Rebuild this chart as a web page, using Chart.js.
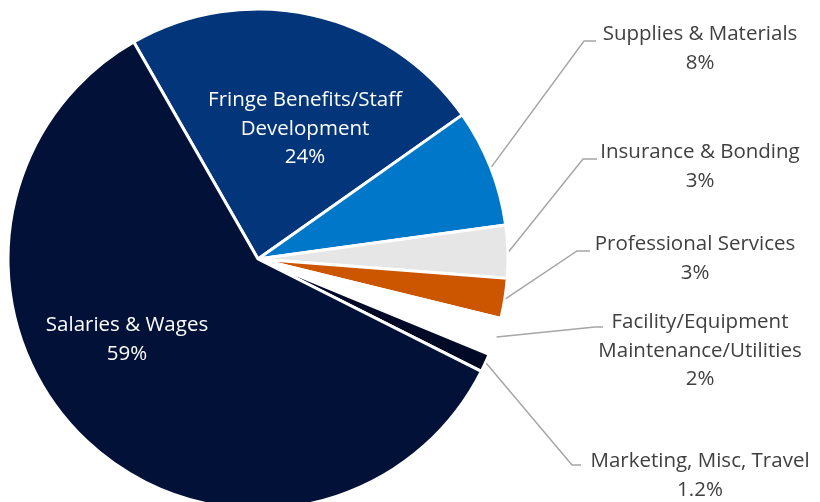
<!DOCTYPE html>
<html>
<head>
<meta charset="utf-8">
<script src="https://cdn.jsdelivr.net/npm/chart.js@4"></script>
<style>
  html, body { margin: 0; padding: 0; background: #fff; overflow: hidden; }
  #wrap { position: relative; width: 820px; height: 502px; }
</style>
</head>
<body>
<div id="wrap"><canvas id="budgetChart"></canvas></div>
<script>
// categories, in the clockwise order they appear
const categories = [
    "Fringe Benefits/Staff Development",
    "Supplies & Materials",
    "Insurance & Bonding",
    "Professional Services",
    "Facility/Equipment Maintenance/Utilities",
    "Marketing, Misc, Travel",
    "Salaries & Wages"
];

// share of budget, percent
const shares = [23.5, 7.6, 3.4, 2.6, 2.4, 1.2, 59.3];

// the percentages as printed on the chart
const shareText = ["24%", "8%", "3%", "3%", "2%", "1.2%", "59%"];

// how the label text is broken onto lines
const labelLines = [
    ["Fringe Benefits/Staff", "Development"],
    ["Supplies & Materials"],
    ["Insurance & Bonding"],
    ["Professional Services"],
    ["Facility/Equipment", "Maintenance/Utilities"],
    ["Marketing, Misc, Travel"],
    ["Salaries & Wages"]
];

const colors = [
    "#03357A", // bleu foncé
    "#0077C8", // bleu
    "#E6E6E6", // gris clair
    "#CC5500", // orange
    "#FFFFFF", // blanc
    "#000A26", // presque noir
    "#021138"  // marine
];

// where each label goes (inside ones have no leader line)
const labelPlace = [
    { inside: true, x: 305, y: 100, color: "#FFFFFF" },
    { x: 700, y: 34, elbow: [584, 41], end: [596, 41] },
    { x: 700, y: 152, elbow: [583, 159], end: [597, 159] },
    { x: 695, y: 244, elbow: [577, 251], end: [590, 251] },
    { x: 700, y: 322, elbow: [595, 327], end: [603, 327] },
    { x: 700, y: 461, elbow: [572, 465], end: [581, 465] },
    { inside: true, x: 127, y: 325, color: "#FFFFFF" }
];

const FONT = "20.5px 'Open Sans', 'Noto Sans', sans-serif";
const LINE_H = 28.8;

const labelPlugin = {
    id: "pieLabels",
    afterDraw(chart) {
        const ctx = chart.ctx;
        const arcs = chart.getDatasetMeta(0).data;
        ctx.save();
        ctx.font = FONT;
        ctx.textAlign = "center";
        ctx.textBaseline = "middle";

        arcs.forEach((arc, i) => {
            const place = labelPlace[i];
            const lines = labelLines[i].concat([shareText[i]]);

            if (!place.inside) {
                const p = arc.getProps(["x", "y", "startAngle", "endAngle", "outerRadius"], true);
                const mid = (p.startAngle + p.endAngle) / 2;
                const sx = p.x + Math.cos(mid) * (p.outerRadius + 1);
                const sy = p.y + Math.sin(mid) * (p.outerRadius + 1);
                ctx.strokeStyle = "#A6A6A6";
                ctx.lineWidth = 1.5;
                ctx.beginPath();
                ctx.moveTo(sx, sy);
                ctx.lineTo(place.elbow[0], place.elbow[1]);
                ctx.lineTo(place.end[0], place.end[1]);
                ctx.stroke();
            }

            ctx.fillStyle = place.color || "#404040";
            lines.forEach((txt, k) => {
                ctx.fillText(txt, place.x, place.y + k * LINE_H);
            });
        });
        ctx.restore();
    }
};

const ctx = document.getElementById("budgetChart").getContext("2d");

new Chart(ctx, {
    type: "pie",
    data: {
        labels: categories,
        datasets: [{
            data: shares,
            backgroundColor: colors,
            borderColor: "#FFFFFF",
            borderWidth: 3,
            clip: false
        }]
    },
    options: {
        responsive: true,
        maintainAspectRatio: false,
        animation: false,
        rotation: -29.8,
        radius: 250,
        layout: {
            padding: { left: 0, right: 304, top: 16, bottom: 0 }
        },
        plugins: {
            legend: { display: false },
            tooltip: { enabled: false }
        }
    },
    plugins: [labelPlugin]
});
</script>
</body>
</html>
